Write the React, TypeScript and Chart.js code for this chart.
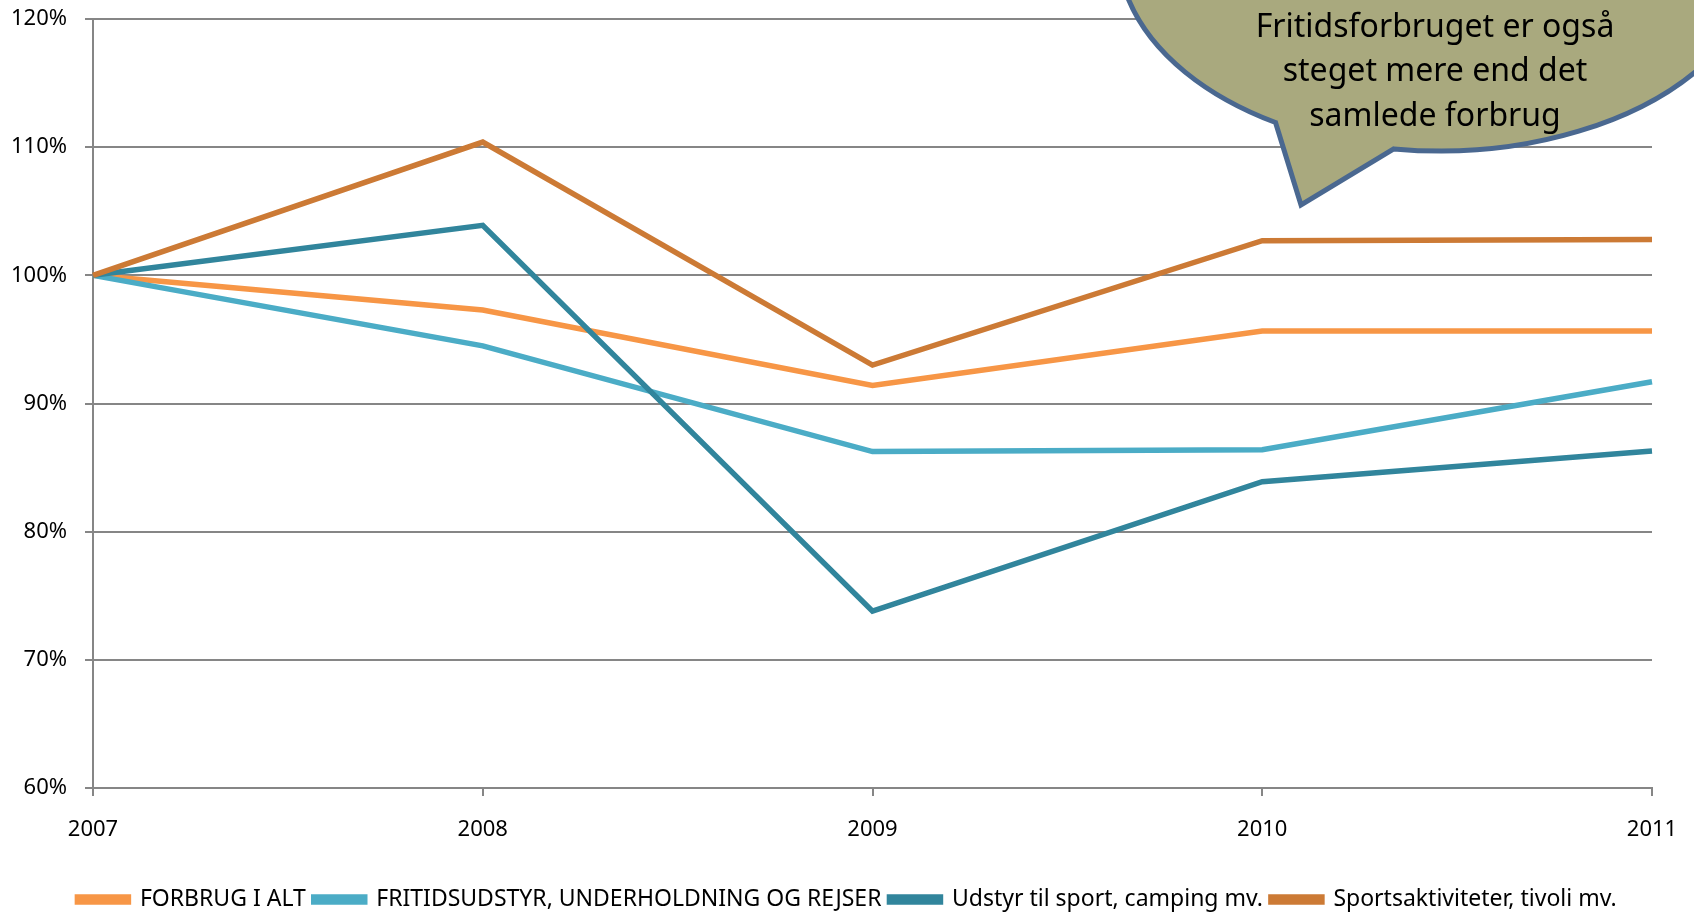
import React, { useEffect, useRef } from "react";
import { Chart, registerables } from "chart.js";

Chart.register(...registerables);

const years = ["2007", "2008", "2009", "2010", "2011"];
const forbrugIAlt = [100, 97.3, 91.4, 95.65, 95.65];
const fritidsudstyr = [100, 94.5, 86.25, 86.4, 91.7];
const udstyrSport = [100, 103.9, 73.8, 83.9, 86.3];
const sportsaktiviteter = [100, 110.4, 93.0, 102.7, 102.8];
const seriesNames = [
  "FORBRUG I ALT",
  "FRITIDSUDSTYR, UNDERHOLDNING OG REJSER",
  "Udstyr til sport, camping mv.",
  "Sportsaktiviteter, tivoli mv.",
];
const seriesColors = ["#F79646", "#4BACC6", "#31859C", "#CC7A35"];
const calloutLines = ["Fritidsforbruget er også", "steget mere end det", "samlede forbrug"];
const yMin = 60;
const yMax = 120;
const yStep = 10;

const FONT = "'Noto Sans', 'Open Sans', sans-serif";

const calloutPlugin = {
  id: "callout",
  afterDraw(chart: any) {
    const ctx = chart.ctx as CanvasRenderingContext2D;
    const cx = 1440, cy = -52, rx = 322, ry = 203;
    const baseL = { x: 1276, y: 122 };
    const baseR = { x: 1394, y: 148 };
    const tip = { x: 1301, y: 205 };
    const aL = Math.atan2((baseL.y - cy) / ry, (baseL.x - cx) / rx);
    let aR = Math.atan2((baseR.y - cy) / ry, (baseR.x - cx) / rx);
    if (aR < aL) aR += Math.PI * 2;
    ctx.save();
    ctx.beginPath();
    ctx.ellipse(cx, cy, rx, ry, 0, aL, aR, false);
    ctx.lineTo(tip.x, tip.y);
    ctx.closePath();
    ctx.fillStyle = "#A9A97E";
    ctx.fill();
    ctx.lineWidth = 5;
    ctx.strokeStyle = "#4A6890";
    ctx.lineJoin = "miter";
    ctx.stroke();
    ctx.fillStyle = "#000000";
    ctx.font = `32px ${FONT}`;
    ctx.textAlign = "center";
    ctx.textBaseline = "middle";
    calloutLines.forEach((t, i) => {
      ctx.fillText(t, 1435, 27.5 + i * 44.5);
    });
    ctx.restore();
  },
};

export default function App() {
  const ref = useRef<HTMLCanvasElement>(null);
  useEffect(() => {
    document.body.style.margin = "0";
    const datasets = [forbrugIAlt, fritidsudstyr, udstyrSport, sportsaktiviteter].map((d, i) => ({
      label: seriesNames[i],
      data: d,
      borderColor: seriesColors[i],
      backgroundColor: seriesColors[i],
      borderWidth: 5.5,
      pointRadius: 0,
      tension: 0,
      fill: false,
      order: 3 - i,
    }));
    const chart = new Chart(ref.current!, {
      type: "line",
      data: { labels: years, datasets },
      plugins: [calloutPlugin],
      options: {
        animation: false,
        responsive: false,
        layout: { padding: { top: 19, right: 0, left: 0, bottom: -8 } },
        plugins: {
          tooltip: { enabled: false },
          legend: {
            position: "bottom",
            labels: {
              boxWidth: 51,
              boxHeight: 5,
              padding: 8,
              color: "#000",
              font: { family: FONT, size: 23 },
              sort: (a: any, b: any) => a.datasetIndex - b.datasetIndex,
            },
          },
        },
        scales: {
          x: {
            offset: false,
            grid: { display: true, drawOnChartArea: false, drawTicks: true, tickLength: 8, color: "#868686", lineWidth: 2 },
            border: { color: "#868686", width: 2 },
            ticks: { color: "#000", font: { family: FONT, size: 22 }, padding: 21, maxRotation: 0 },
            afterFit: (s: any) => { s.height = 92; s.paddingLeft = 0; s.paddingRight = 42; },
          },
          y: {
            min: yMin,
            max: yMax,
            grid: { color: "#868686", lineWidth: 2, tickLength: 8 },
            border: { color: "#868686", width: 2 },
            ticks: {
              stepSize: yStep,
              color: "#000",
              font: { family: FONT, size: 22 },
              padding: 18,
              callback: (v: any) => v + "%",
            },
            afterFit: (s: any) => { s.width = 93; s.paddingTop = 0; s.paddingBottom = 0; },
          },
        },
      },
    });
    return () => chart.destroy();
  }, []);
  return (
    <div style={{ position: "absolute", left: 0, top: 0, width: 1694, height: 913 }}>
      <canvas ref={ref} width={1694} height={913} style={{ display: "block" }} />
    </div>
  );
}
